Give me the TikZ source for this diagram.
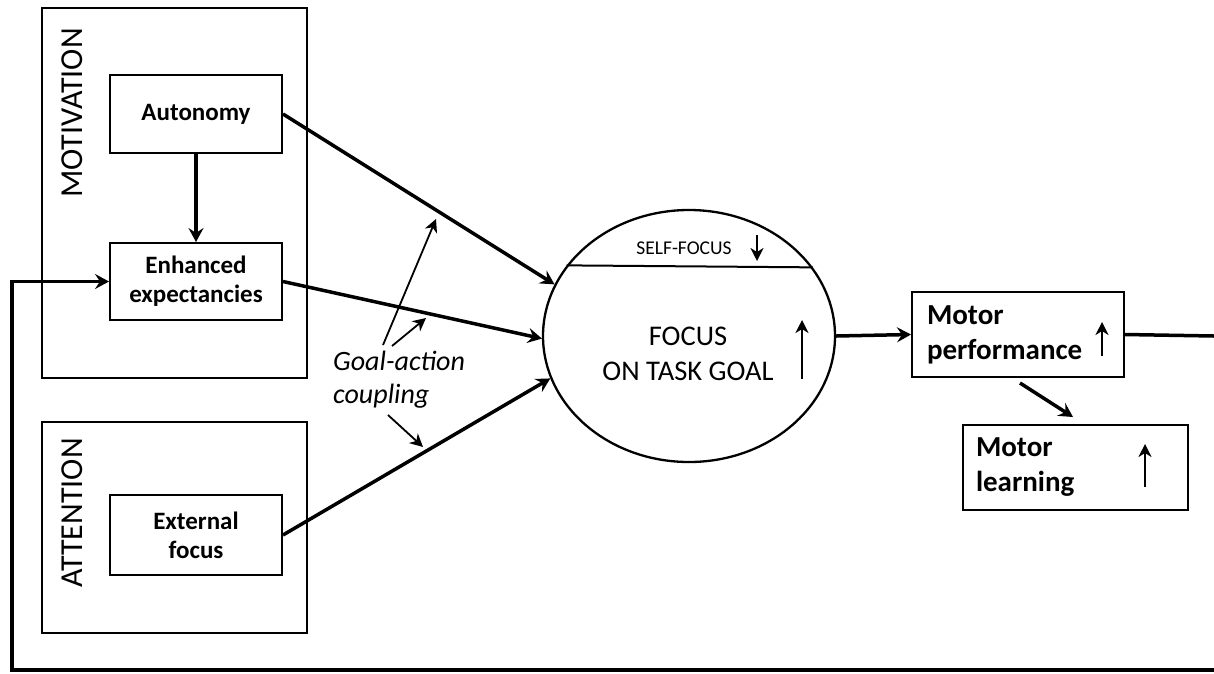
\documentclass[tikz,border=0pt]{standalone}
\usepackage{fontspec}
\setmainfont{Carlito}
\usetikzlibrary{arrows.meta,shapes.geometric}
\begin{document}
\begin{tikzpicture}[x=1pt,y=-1pt,
  outerbox/.style={draw, line width=2pt, minimum width=265pt, inner sep=0pt},
  box/.style={draw, line width=2pt, inner sep=0pt, align=center,
    font=\fontsize{25}{29}\selectfont\bfseries},
  rbox/.style={draw, line width=2pt, inner sep=0pt, align=left,
    font=\fontsize{29}{35}\selectfont\bfseries},
  biglabel/.style={rotate=90, font=\fontsize{32}{36}\selectfont, inner sep=0pt},
  bigarrow/.style={line width=3.5pt, -{Stealth[length=14pt,width=15pt,inset=5pt]}},
  thinarrow/.style={line width=1.8pt, -{Stealth[length=13pt,width=13pt,inset=4pt]}},
  uparrow/.style={line width=2.8pt, -{Stealth[length=13pt,width=13pt,inset=4pt]}},
  plainline/.style={line width=3.5pt}
]
\useasboundingbox (0,0) rectangle (1214,673);

% group boxes
\node[outerbox, minimum height=370pt] (motiv) at (174.5,193) {};
\node[outerbox, minimum height=211pt] (atten) at (174.5,527.5) {};
\node[biglabel] (motivlab) at (72,113) {MOTIVATION};
\node[biglabel] (attenlab) at (72,513) {ATTENTION};

% inner boxes
\node[box, minimum width=172pt, minimum height=78pt] (auton) at (196,114) {Autonomy};
\node[box, minimum width=172pt, minimum height=77pt] (enh) at (196,281.5) {Enhanced\\expectancies};
\node[box, minimum width=172pt, minimum height=80pt] (ext) at (196,535) {External\\focus};

% central ellipse
\node[ellipse, draw, line width=2.3pt, minimum width=292pt, minimum height=252pt, inner sep=0pt] (foc) at (689,336) {};
\draw[line width=2pt] (foc.150.5) -- (foc.29.5);
\node[font=\fontsize{19.5}{22}\selectfont, inner sep=0pt] (selflab) at (684,248) {SELF-FOCUS};
\node[font=\fontsize{28.5}{35}\selectfont, align=center, inner sep=0pt] (foclab) at (688,354) {FOCUS\\ON TASK GOAL};
\coordinate (sfa) at (757,235); \coordinate (sfb) at (757,261);
\draw[uparrow] (sfa) -- (sfb);
\coordinate (fua) at (802,379); \coordinate (fub) at (802,320);
\draw[uparrow] (fua) -- (fub);

% right boxes
\node[rbox, minimum width=212pt, minimum height=85pt, text width=182pt] (perf) at (1018,334.5) {Motor\\performance};
\node[rbox, minimum width=225pt, minimum height=85pt, text width=199pt] (learn) at (1075.5,467.5) {Motor\\learning};
\coordinate (pua) at (1102,356); \coordinate (pub) at (1102,322);
\draw[uparrow] (pua) -- (pub);
\coordinate (lua) at (1145,487); \coordinate (lub) at (1145,444);
\draw[uparrow] (lua) -- (lub);

% main connectors
\draw[bigarrow] (auton) -- (enh);
\draw[bigarrow] (auton.east) -- (foc.159);
\draw[bigarrow] (enh.east) -- (foc.181);
\draw[bigarrow] (ext.east) -- (foc.197);
\draw[bigarrow] (foc.east) -- (perf.west);
\coordinate (pl1) at (1020,383); \coordinate (pl2) at (1073,417);
\draw[bigarrow] (pl1) -- (pl2);
\coordinate (outR) at (1214,336);
\draw[plainline] (perf.east) -- (outR);

% feedback loop
\coordinate (fbR) at (1214,670);
\coordinate (fbL) at (12,670);
\draw[bigarrow] (fbR) -- (fbL) |- (enh.west);

% goal-action coupling
\node[font=\fontsize{28}{33}\selectfont\itshape, align=left, anchor=north west, inner sep=0pt] (gac) at (333,351) {Goal-action\\coupling};
\coordinate (g1a) at (383,345); \coordinate (g1b) at (436,219);
\draw[thinarrow] (g1a) -- (g1b);
\coordinate (g2a) at (392,346); \coordinate (g2b) at (426,318);
\draw[thinarrow] (g2a) -- (g2b);
\coordinate (g3a) at (388,415); \coordinate (g3b) at (423,447);
\draw[thinarrow] (g3a) -- (g3b);
\end{tikzpicture}
\end{document}
